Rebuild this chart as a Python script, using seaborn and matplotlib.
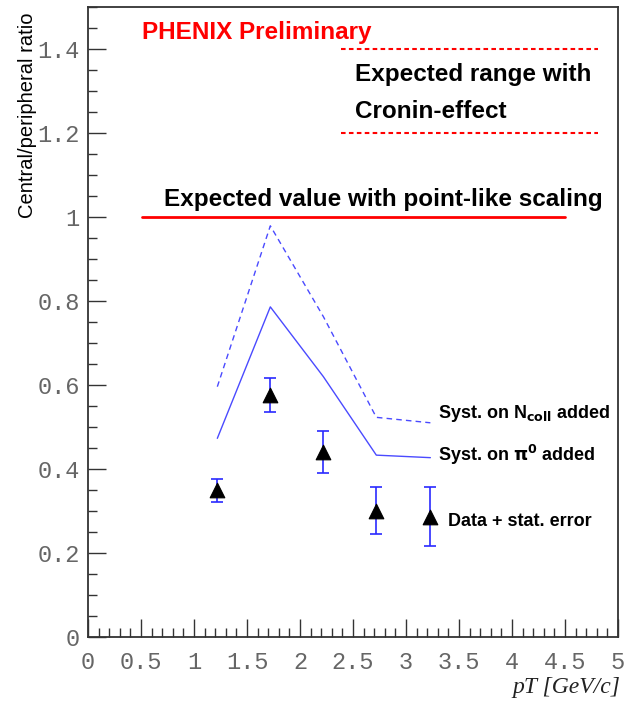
import numpy as np
import pandas as pd
import matplotlib
matplotlib.use("Agg")
import matplotlib.pyplot as plt
import seaborn as sns
from matplotlib.ticker import MultipleLocator, FixedLocator

# ---- data ----
pt = [1.22, 1.72, 2.22, 2.72, 3.23]
ratio = [0.349, 0.576, 0.440, 0.301, 0.286]
stat_err = [0.027, 0.040, 0.050, 0.055, 0.070]
syst_ncoll = [0.596, 0.979, 0.763, 0.523, 0.510]
syst_pi0 = [0.473, 0.786, 0.620, 0.433, 0.427]
xticks = [0, 0.5, 1, 1.5, 2, 2.5, 3, 3.5, 4, 4.5, 5]
xtick_labels = ["0", "0.5", "1", "1.5", "2", "2.5", "3", "3.5", "4", "4.5", "5"]
yticks = [0, 0.2, 0.4, 0.6, 0.8, 1.0, 1.2, 1.4]
ytick_labels = ["0", "0.2", "0.4", "0.6", "0.8", "1", "1.2", "1.4"]
point_like_x = [0.506, 4.5]
point_like_y = [1.0, 1.0]
cronin_x = [2.39, 4.81]
cronin_low = [1.2, 1.2]
cronin_high = [1.4, 1.4]

sns.set_style("ticks")
plt.rcParams["font.family"] = ["Liberation Sans", "DejaVu Sans"]

fig = plt.figure(figsize=(6.24, 7.04), dpi=100)
ax = fig.add_axes([88/624, 1-637/704, 530/624, 630/704])

df = pd.DataFrame({"pt": pt, "ratio": ratio, "ncoll": syst_ncoll, "pi0": syst_pi0})

sns.lineplot(data=df, x="pt", y="ncoll", ax=ax, color="#4a4aff", lw=1.0,
             linestyle=(0, (4, 3)))
sns.lineplot(data=df, x="pt", y="pi0", ax=ax, color="#4a4aff", lw=1.0)
ax.errorbar(pt, ratio, yerr=stat_err, fmt="none", ecolor="#2a2aff",
            elinewidth=1.2, capsize=4, capthick=1.2, zorder=3)
sns.scatterplot(data=df, x="pt", y="ratio", ax=ax, marker="^", s=110,
                color="black", edgecolor="black", zorder=4)

# reference lines
ax.plot(point_like_x, point_like_y, color="red", lw=2)
ax.plot(cronin_x, cronin_low, color="red", lw=1.5, linestyle=(0, (2.2, 1.6)))
ax.plot(cronin_x, cronin_high, color="red", lw=1.5, linestyle=(0, (2.2, 1.6)))

ax.set_xlim(0, 5)
ax.set_ylim(0, 1.5)

ax.xaxis.set_major_locator(FixedLocator(xticks))
ax.yaxis.set_major_locator(FixedLocator(yticks))
ax.xaxis.set_minor_locator(MultipleLocator(0.1))
ax.yaxis.set_minor_locator(MultipleLocator(0.05))
ax.set_xticklabels(xtick_labels)
ax.set_yticklabels(ytick_labels)

mono = ["Liberation Mono", "DejaVu Sans Mono"]
for lab in ax.get_xticklabels() + ax.get_yticklabels():
    lab.set_family(mono)
    lab.set_fontsize(17)
    lab.set_color("#666666")

ax.tick_params(axis="both", which="major", direction="in", length=13,
               width=1.0, color="#333333", pad=6)
ax.tick_params(axis="both", which="minor", direction="in", length=6.5,
               width=1.0, color="#333333")
ax.tick_params(axis="x", pad=10)
for s in ax.spines.values():
    s.set_color("#333333")
    s.set_linewidth(1.3)
    s.set_visible(True)

ax.set_xlabel("")
ax.set_ylabel("")

fig.text(620/624, 1-688/704, "pT [GeV/c]", family=["Liberation Serif"],
         style="italic", fontsize=17, ha="right", va="center", color="#222222")
fig.text(28/624, 1-12/704, "Central/peripheral ratio", rotation=90,
         fontsize=14.5, ha="center", va="top", color="black")

def dx(px):
    return (px - 88) / 106.0

def dy(py):
    return (637 - py) / 420.0

ax.text(dx(142), dy(32), "PHENIX Preliminary", color="red", fontsize=17.5,
        fontweight="bold", ha="left", va="center")
ax.text(dx(355), dy(75), "Expected range with", color="black", fontsize=17.5,
        fontweight="bold", ha="left", va="center")
ax.text(dx(355), dy(111), "Cronin-effect", color="black", fontsize=17.5,
        fontweight="bold", ha="left", va="center")
ax.text(dx(164), dy(200), "Expected value with point-like scaling",
        color="black", fontsize=17.5, fontweight="bold", ha="left", va="center")
ax.text(dx(438), dy(413), r"Syst. on N$_{\mathbf{coll}}$ added", color="black",
        fontsize=13, fontweight="bold", ha="left", va="center")
ax.text(dx(438), dy(455), r"Syst. on $\mathbf{\pi^0}$ added", color="black",
        fontsize=13, fontweight="bold", ha="left", va="center")
ax.text(dx(448), dy(522), "Data + stat. error", color="black",
        fontsize=13, fontweight="bold", ha="left", va="center")

fig.savefig("out.png", dpi=100, facecolor="white")
